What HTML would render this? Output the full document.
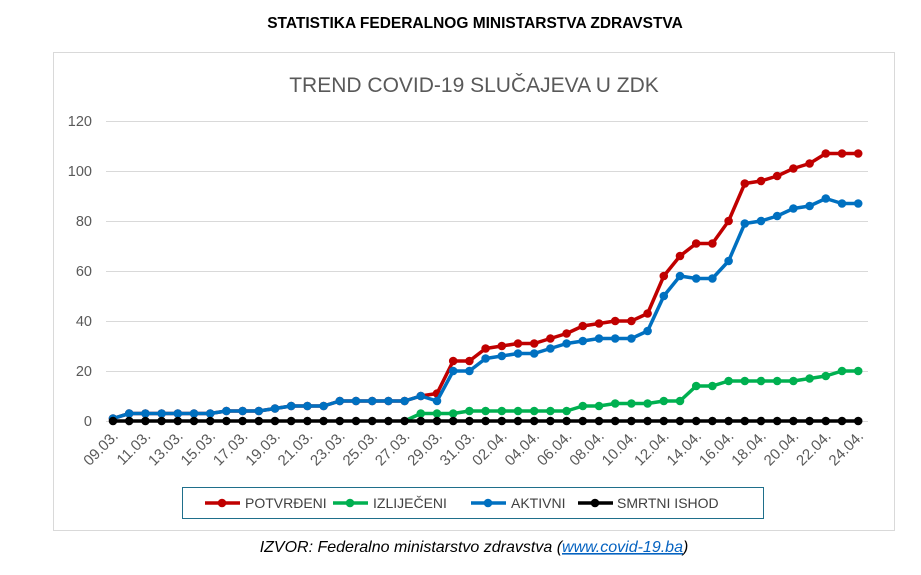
<!DOCTYPE html>
<html><head><meta charset="utf-8"><style>
body{margin:0;background:#fff;width:921px;height:570px;overflow:hidden;font-family:"Liberation Sans",Calibri,sans-serif}
</style></head><body>
<svg width="921" height="570" xmlns="http://www.w3.org/2000/svg" font-family="Liberation Sans, sans-serif">
<defs>
<marker id="mr" markerWidth="10" markerHeight="10" refX="5" refY="5" markerUnits="userSpaceOnUse"><circle cx="5" cy="5" r="4.3" fill="#c00000"/></marker>
<marker id="mg" markerWidth="10" markerHeight="10" refX="5" refY="5" markerUnits="userSpaceOnUse"><circle cx="5" cy="5" r="4.3" fill="#00b050"/></marker>
<marker id="mb" markerWidth="10" markerHeight="10" refX="5" refY="5" markerUnits="userSpaceOnUse"><circle cx="5" cy="5" r="4.3" fill="#0070c0"/></marker>
<marker id="mk" markerWidth="10" markerHeight="10" refX="5" refY="5" markerUnits="userSpaceOnUse"><circle cx="5" cy="5" r="4.3" fill="#000"/></marker>
</defs>
<text x="475" y="28" text-anchor="middle" font-size="15.5" font-weight="bold" fill="#000">STATISTIKA FEDERALNOG MINISTARSTVA ZDRAVSTVA</text>
<rect x="53.5" y="52.5" width="841" height="478" fill="none" stroke="#d9d9d9"/>
<text x="474" y="92" text-anchor="middle" font-size="21" fill="#595959">TREND COVID-19 SLUČAJEVA U ZDK</text>
<g stroke="#d9d9d9" stroke-width="1">
<line x1="106" x2="868" y1="121.5" y2="121.5"/><line x1="106" x2="868" y1="171.5" y2="171.5"/><line x1="106" x2="868" y1="221.5" y2="221.5"/><line x1="106" x2="868" y1="271.5" y2="271.5"/><line x1="106" x2="868" y1="321.5" y2="321.5"/><line x1="106" x2="868" y1="371.5" y2="371.5"/><line x1="106" x2="868" y1="421.5" y2="421.5"/>
</g>
<g font-size="14.5" fill="#595959" text-anchor="end">
<text x="92" y="126">120</text><text x="92" y="176">100</text><text x="92" y="226">80</text><text x="92" y="276">60</text><text x="92" y="326">40</text><text x="92" y="376">20</text><text x="92" y="426">0</text>
</g>
<g font-size="15" fill="#595959" text-anchor="end">
<text transform="translate(119,437) rotate(-45)">09.03.</text>
<text transform="translate(151.4,437) rotate(-45)">11.03.</text>
<text transform="translate(183.8,437) rotate(-45)">13.03.</text>
<text transform="translate(216.2,437) rotate(-45)">15.03.</text>
<text transform="translate(248.6,437) rotate(-45)">17.03.</text>
<text transform="translate(281,437) rotate(-45)">19.03.</text>
<text transform="translate(313.4,437) rotate(-45)">21.03.</text>
<text transform="translate(345.8,437) rotate(-45)">23.03.</text>
<text transform="translate(378.2,437) rotate(-45)">25.03.</text>
<text transform="translate(410.6,437) rotate(-45)">27.03.</text>
<text transform="translate(443,437) rotate(-45)">29.03.</text>
<text transform="translate(475.4,437) rotate(-45)">31.03.</text>
<text transform="translate(507.8,437) rotate(-45)">02.04.</text>
<text transform="translate(540.2,437) rotate(-45)">04.04.</text>
<text transform="translate(572.6,437) rotate(-45)">06.04.</text>
<text transform="translate(605,437) rotate(-45)">08.04.</text>
<text transform="translate(637.4,437) rotate(-45)">10.04.</text>
<text transform="translate(669.8,437) rotate(-45)">12.04.</text>
<text transform="translate(702.2,437) rotate(-45)">14.04.</text>
<text transform="translate(734.6,437) rotate(-45)">16.04.</text>
<text transform="translate(767,437) rotate(-45)">18.04.</text>
<text transform="translate(799.4,437) rotate(-45)">20.04.</text>
<text transform="translate(831.8,437) rotate(-45)">22.04.</text>
<text transform="translate(864.2,437) rotate(-45)">24.04.</text>
</g>
<g fill="none" stroke-width="3.5" stroke-linejoin="round">
<polyline stroke="#c00000" marker-start="url(#mr)" marker-mid="url(#mr)" marker-end="url(#mr)" points="113,418.5 129.2,413.5 145.4,413.5 161.6,413.5 177.8,413.5 194,413.5 210.2,413.5 226.4,411 242.6,411 258.8,411 275,408.5 291.2,406 307.4,406 323.6,406 339.8,401 356,401 372.2,401 388.4,401 404.6,401 420.8,396 437,393.5 453.2,361 469.4,361 485.6,348.5 501.8,346 518,343.5 534.2,343.5 550.4,338.5 566.6,333.5 582.8,326 599,323.5 615.2,321 631.4,321 647.6,313.5 663.8,276 680,256 696.2,243.5 712.4,243.5 728.6,221 744.8,183.5 761,181 777.2,176 793.4,168.5 809.6,163.5 825.8,153.5 842,153.5 858.2,153.5"/>
<polyline stroke="#00b050" marker-mid="url(#mg)" marker-end="url(#mg)" points="404.6,421 420.8,413.5 437,413.5 453.2,413.5 469.4,411 485.6,411 501.8,411 518,411 534.2,411 550.4,411 566.6,411 582.8,406 599,406 615.2,403.5 631.4,403.5 647.6,403.5 663.8,401 680,401 696.2,386 712.4,386 728.6,381 744.8,381 761,381 777.2,381 793.4,381 809.6,378.5 825.8,376 842,371 858.2,371"/>
<polyline stroke="#0070c0" marker-start="url(#mb)" marker-mid="url(#mb)" marker-end="url(#mb)" points="113,418.5 129.2,413.5 145.4,413.5 161.6,413.5 177.8,413.5 194,413.5 210.2,413.5 226.4,411 242.6,411 258.8,411 275,408.5 291.2,406 307.4,406 323.6,406 339.8,401 356,401 372.2,401 388.4,401 404.6,401 420.8,396 437,401 453.2,371 469.4,371 485.6,358.5 501.8,356 518,353.5 534.2,353.5 550.4,348.5 566.6,343.5 582.8,341 599,338.5 615.2,338.5 631.4,338.5 647.6,331 663.8,296 680,276 696.2,278.5 712.4,278.5 728.6,261 744.8,223.5 761,221 777.2,216 793.4,208.5 809.6,206 825.8,198.5 842,203.5 858.2,203.5"/>
<polyline stroke="#000" marker-start="url(#mk)" marker-mid="url(#mk)" marker-end="url(#mk)" points="113,421 129.2,421 145.4,421 161.6,421 177.8,421 194,421 210.2,421 226.4,421 242.6,421 258.8,421 275,421 291.2,421 307.4,421 323.6,421 339.8,421 356,421 372.2,421 388.4,421 404.6,421 420.8,421 437,421 453.2,421 469.4,421 485.6,421 501.8,421 518,421 534.2,421 550.4,421 566.6,421 582.8,421 599,421 615.2,421 631.4,421 647.6,421 663.8,421 680,421 696.2,421 712.4,421 728.6,421 744.8,421 761,421 777.2,421 793.4,421 809.6,421 825.8,421 842,421 858.2,421"/>
</g>
<rect x="182.5" y="487.5" width="581" height="31" fill="none" stroke="#1f6f8b" stroke-width="1"/>
<g stroke-width="3.5">
<line x1="205" x2="240" y1="503" y2="503" stroke="#c00000"/><circle cx="222" cy="503" r="4.3" fill="#c00000"/>
<line x1="333" x2="368" y1="503" y2="503" stroke="#00b050"/><circle cx="350" cy="503" r="4.3" fill="#00b050"/>
<line x1="471" x2="506" y1="503" y2="503" stroke="#0070c0"/><circle cx="488" cy="503" r="4.3" fill="#0070c0"/>
<line x1="578" x2="613" y1="503" y2="503" stroke="#000"/><circle cx="595" cy="503" r="4.3" fill="#000"/>
</g>
<g font-size="14" fill="#404040">
<text x="245" y="508">POTVRĐENI</text><text x="373" y="508">IZLIJEČENI</text><text x="511" y="508">AKTIVNI</text><text x="617" y="508">SMRTNI ISHOD</text>
</g>
<text x="474" y="552" text-anchor="middle" font-size="16" font-style="italic" fill="#000">IZVOR: Federalno ministarstvo zdravstva (<tspan fill="#0563c1" text-decoration="underline">www.covid-19.ba</tspan>)</text>
</svg>
</body></html>
